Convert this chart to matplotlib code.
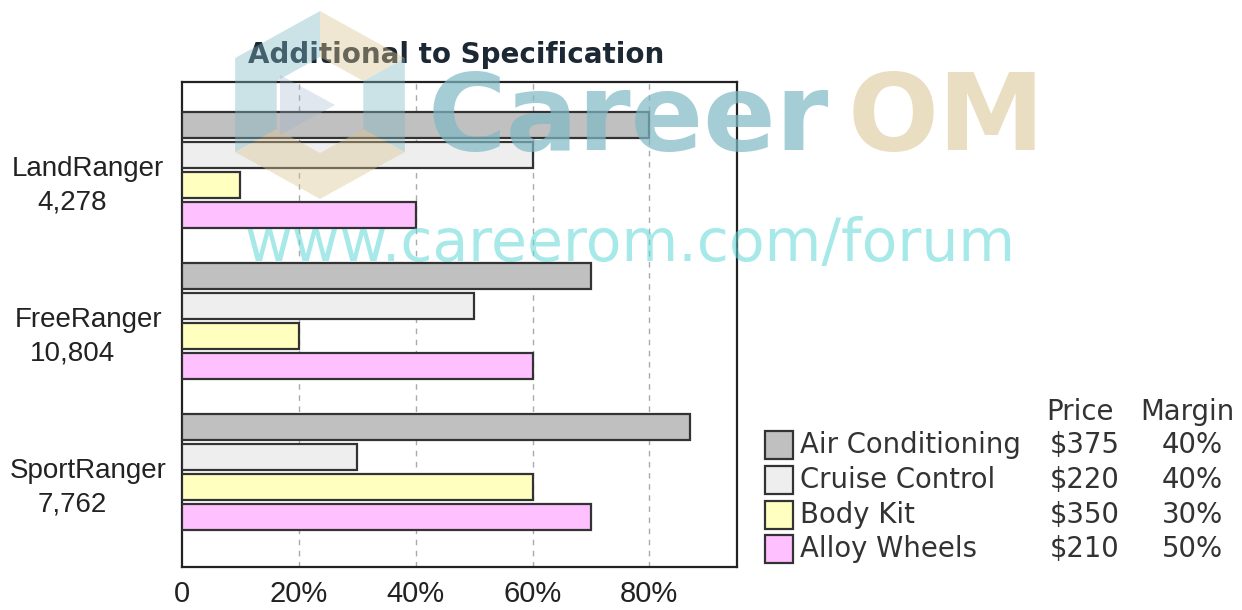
import numpy as np
import matplotlib
matplotlib.use('Agg')
import matplotlib.pyplot as plt
from matplotlib.patches import Rectangle, Polygon
from matplotlib.transforms import blended_transform_factory

# ========== data ==========
models = ['LandRanger', 'FreeRanger', 'SportRanger']
model_units = ['4,278', '10,804', '7,762']
options = ['Air Conditioning', 'Cruise Control', 'Body Kit', 'Alloy Wheels']
prices = ['$375', '$220', '$350', '$210']
margins = ['40%', '40%', '30%', '50%']
# % of each model sold with the option
take_up = {
    'Air Conditioning': [80, 70, 87],
    'Cruise Control':   [60, 50, 30],
    'Body Kit':         [10, 20, 60],
    'Alloy Wheels':     [40, 60, 70],
}
x_ticks = [0, 20, 40, 60, 80]
x_tick_labels = ['0', '20%', '40%', '60%', '80%']

colors = ['#c0c0c0', '#eeeeee', '#ffffc0', '#ffc0ff']
edge = '#333333'

W, H = 1242, 610
def fx(px):
    return px / W
def fy(py):
    return 1 - py / H

arial = ['Liberation Sans', 'DejaVu Sans']

fig = plt.figure(figsize=(W / 100, H / 100), dpi=100)
fig.patch.set_facecolor('white')
ax = fig.add_axes([fx(182), fy(567), fx(737) - fx(182), fy(82) - fy(567)])

# ========== bars ==========
y = np.arange(len(models))
offsets = [-0.3, -0.1, 0.1, 0.3]
for opt, off, c in zip(options, offsets, colors):
    ax.barh(y + off, take_up[opt], height=0.172, color=c, edgecolor=edge,
            linewidth=1.6, zorder=3)

ax.set_xlim(0, 95)
ax.set_ylim(2.629, -0.583)
ax.set_xticks(x_ticks)
ax.set_xticklabels(x_tick_labels, family=arial, fontsize=21, color='#222222')
ax.tick_params(axis='x', length=0, pad=9)
ax.set_yticks([])
for s in ax.spines.values():
    s.set_linewidth(1.6)
    s.set_color('#222222')
for xv in x_ticks[1:]:
    ax.axvline(xv, color='#aaaaaa', lw=1.0, ls=(0, (4, 4)), zorder=1)

# model labels (two lines)
tr = blended_transform_factory(ax.transAxes, ax.transData)
for i, (m, u) in enumerate(zip(models, model_units)):
    ax.text(-0.169, i - 0.01, m, transform=tr, ha='center', va='center',
            family=arial, fontsize=20, color='#222222')
    ax.text(-0.198, i + 0.215, u, transform=tr, ha='center', va='center',
            family=arial, fontsize=20, color='#222222')

# title
fig.text(fx(456), fy(55), 'Additional to Specification', ha='center', va='center',
         fontsize=20, fontweight='bold', color='#1c2833', family='DejaVu Sans')

# ========== legend table ==========
fs_leg = 19.8
fig.text(fx(1080), fy(412), 'Price', ha='center', va='center', fontsize=fs_leg, color='#333333')
fig.text(fx(1187), fy(412), 'Margin', ha='center', va='center', fontsize=fs_leg, color='#333333')
row_y = [445, 480, 515, 549]
for ry, opt, p, m, c in zip(row_y, options, prices, margins, colors):
    fig.add_artist(Rectangle((fx(765), fy(ry + 14)), fx(28), 28 / H,
                             facecolor=c, edgecolor=edge, lw=1.6,
                             transform=fig.transFigure))
    fig.text(fx(800), fy(ry), opt, ha='left', va='center', fontsize=fs_leg, color='#333333')
    fig.text(fx(1050), fy(ry), p, ha='left', va='center', fontsize=fs_leg, color='#333333')
    fig.text(fx(1223), fy(ry), m, ha='right', va='center', fontsize=fs_leg, color='#333333')

# ========== watermark ==========
cx, cy = 320, 105
ang = np.deg2rad(np.arange(90, 450, 60))
outer = [(cx + 98 * np.cos(a), cy - 94 * np.sin(a)) for a in ang]
inner = [(cx + 50 * np.cos(a), cy - 48 * np.sin(a)) for a in ang]
piece_cols = ['#7fb8c4', '#7fb8c4', '#d8c490', '#d8c490', '#7fb8c4', '#d8c490']
for k in range(6):
    j = (k + 1) % 6
    pts = [outer[k], outer[j], inner[j], inner[k]]
    fig.add_artist(Polygon([(fx(px), fy(py)) for px, py in pts], closed=True,
                           transform=fig.transFigure, facecolor=piece_cols[k],
                           edgecolor='none', alpha=0.4, zorder=10))
fig.add_artist(Polygon([(fx(280), fy(75)), (fx(280), fy(135)), (fx(335), fy(105))],
                       closed=True, transform=fig.transFigure, facecolor='#9ab0c8',
                       edgecolor='none', alpha=0.3, zorder=10))

fig.text(fx(428), fy(150), 'Career', ha='left', va='baseline', fontsize=77,
         fontweight='bold', color='#7fb8c4', alpha=0.7, zorder=10)
fig.text(fx(848), fy(150), 'OM', ha='left', va='baseline', fontsize=77,
         fontweight='bold', color='#d8c490', alpha=0.55, zorder=10)
fig.text(fx(630), fy(245), 'www.careerom.com/forum', ha='center', va='center',
         fontsize=42, color='#5fd8d8', alpha=0.55, zorder=10)

fig.savefig('out.png', dpi=100)
